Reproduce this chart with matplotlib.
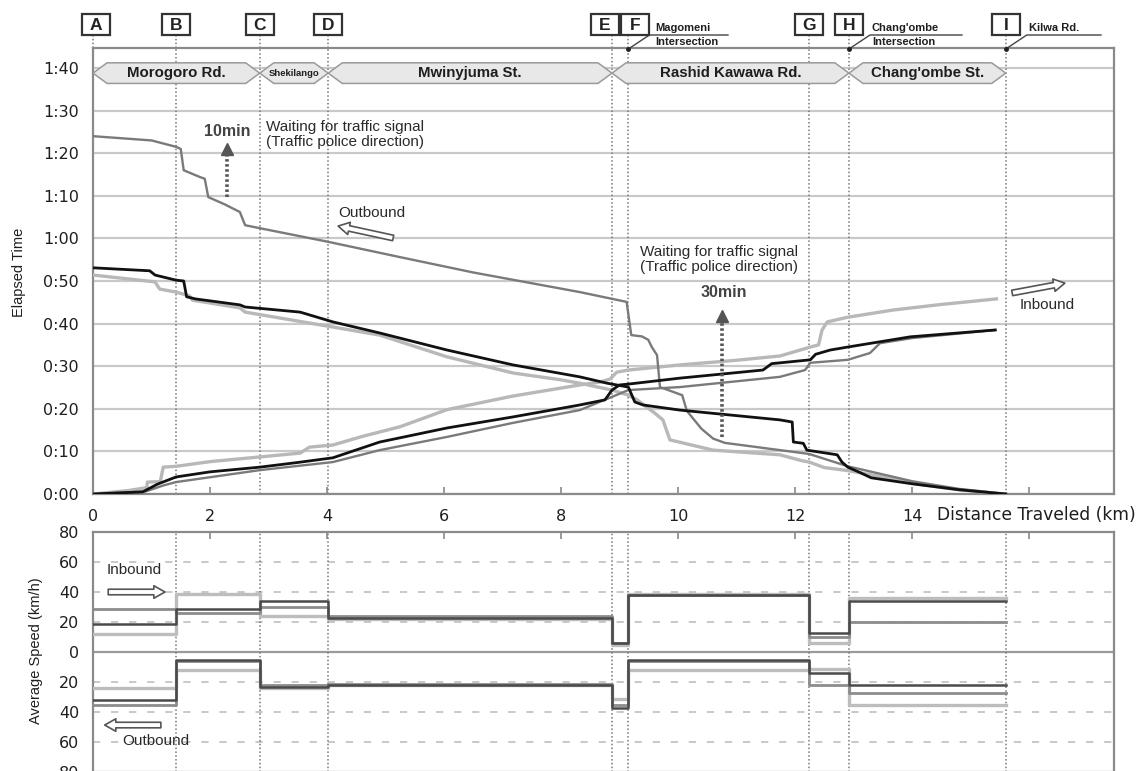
import matplotlib
matplotlib.use('Agg')
import matplotlib.pyplot as plt
from matplotlib.patches import Polygon, Rectangle, FancyArrowPatch, ArrowStyle
from matplotlib.lines import Line2D

# ---------------- data ----------------
station_names = ['A', 'B', 'C', 'D', 'E', 'F', 'G', 'H', 'I']
station_km = [0.0, 1.42, 2.85, 4.02, 8.87, 9.15, 12.24, 12.92, 15.6]

road_names = ['Morogoro Rd.', 'Shekilango', 'Mwinyjuma St.', 'Rashid Kawawa Rd.', "Chang'ombe St."]
road_from = [0.0, 2.85, 4.02, 8.87, 12.92]
road_to = [2.85, 4.02, 8.87, 12.92, 15.6]

time_ticks = [0, 10, 20, 30, 40, 50, 60, 70, 80, 90, 100]
dist_ticks = [0, 2, 4, 6, 8, 10, 12, 14, 16]
dist_labels = ['0', '2', '4', '6', '8', '10', '12', '14', '']
speed_ticks = [-80, -60, -40, -20, 0, 20, 40, 60, 80]

# inbound runs (km, elapsed minutes)
in_light_x = [0, 0.6, 0.92, 0.93, 1.15, 1.2, 1.42, 2.0, 2.85, 3.54, 3.7, 4.1, 4.6, 5.25, 6.05, 7.18, 8.32,
              8.67, 8.84, 8.95, 9.15, 10.03, 11.0, 11.74, 12.26, 12.4, 12.46, 12.55, 12.9, 13.68, 14.5, 15.44]
in_light_t = [0, 0.8, 1.5, 2.8, 2.9, 6.3, 6.5, 7.6, 8.7, 9.6, 11.0, 11.5, 13.5, 15.8, 19.8, 23.0, 25.6,
              26.3, 27.0, 28.6, 29.1, 30.3, 31.4, 32.4, 34.5, 35.0, 38.5, 40.4, 41.5, 43.2, 44.5, 45.8]
in_black_x = [0, 0.85, 1.1, 1.42, 2.0, 2.85, 3.5, 4.1, 4.9, 5.25, 6.05, 7.18, 8.32, 8.75, 8.87, 9.0,
              9.15, 10.03, 11.45, 11.6, 12.26, 12.35, 12.6, 12.9, 13.97, 15.42]
in_black_t = [0, 0.5, 2.3, 4.0, 5.2, 6.3, 7.4, 8.5, 12.2, 13.2, 15.5, 18.1, 20.9, 22.1, 24.4, 25.6,
              25.8, 27.2, 29.1, 30.6, 31.5, 32.8, 33.8, 34.5, 36.9, 38.5]
in_gray_x = [0, 0.9, 1.2, 1.42, 2.85, 4.1, 4.9, 6.05, 7.18, 8.32, 8.87, 9.15, 10.03, 11.74, 12.17, 12.26,
             12.9, 13.28, 13.45, 14.0, 15.42]
in_gray_t = [0, 0.6, 2.0, 2.8, 5.6, 7.5, 10.3, 13.4, 16.7, 19.7, 22.8, 24.4, 25.1, 27.5, 29.1, 30.8,
             31.5, 33.1, 35.4, 36.6, 38.5]

# outbound runs (km, elapsed minutes counted from I)
out_gray_x = [0, 1.0, 1.42, 1.5, 1.55, 1.83, 1.91, 1.97, 2.25, 2.51, 2.6, 2.85, 4.02, 5.25, 6.5, 8.32,
              9.12, 9.2, 9.38, 9.49, 9.55, 9.64, 9.69, 10.07, 10.15, 10.4, 10.6, 10.8, 11.74, 12.24,
              12.9, 13.5, 14.0, 14.8, 15.6]
out_gray_t = [84.0, 83.0, 81.5, 81.0, 76.0, 74.4, 74.0, 69.7, 68.0, 66.2, 63.1, 62.4, 59.2, 55.6, 52.0, 47.4,
              45.1, 37.3, 37.0, 36.2, 34.5, 32.6, 25.1, 23.2, 19.5, 15.3, 13.0, 12.0, 10.3, 9.4,
              6.5, 4.6, 3.0, 1.2, 0]
out_black_x = [0, 0.97, 1.06, 1.42, 1.55, 1.6, 1.75, 2.51, 2.6, 3.54, 4.1, 4.9, 6.05, 7.18, 8.32, 8.79,
               9.15, 9.26, 9.4, 10.03, 11.74, 11.95, 11.97, 12.14, 12.2, 12.72, 12.8, 12.9, 13.1, 13.3,
               14.0, 14.8, 15.6]
out_black_t = [53.1, 52.4, 51.4, 50.2, 50.0, 46.3, 45.8, 44.4, 43.9, 42.7, 40.4, 37.8, 33.8, 30.3, 27.5, 26.0,
               25.1, 21.6, 20.9, 19.7, 17.4, 16.9, 12.2, 11.9, 10.3, 9.2, 7.5, 6.3, 5.1, 3.8,
               2.4, 1.0, 0]
out_light_x = [0, 1.06, 1.14, 1.42, 1.65, 1.7, 2.51, 2.6, 4.1, 4.9, 6.05, 7.18, 8.0, 8.32, 8.87, 9.15,
               9.3, 9.6, 9.74, 9.86, 10.6, 11.74, 12.12, 12.24, 12.5, 12.9, 13.5, 14.0, 14.8, 15.6]
out_light_t = [51.4, 49.8, 48.1, 47.4, 46.5, 45.5, 43.7, 42.7, 39.2, 37.3, 32.2, 28.4, 26.8, 26.0, 24.4, 23.2,
               22.1, 19.0, 17.4, 12.7, 10.3, 9.2, 7.8, 7.5, 6.2, 5.5, 4.0, 2.5, 1.0, 0]

# average speed per section (km/h); inbound positive, outbound negative
seg_bounds = [0.0, 1.42, 2.85, 4.02, 8.87, 9.15, 12.24, 12.92, 15.6]
spd_in_dark = [19, 29, 34, 23, 6, 38, 13, 34]
spd_in_gray = [29, 26, 30, 24, 6, 38, 10, 20]
spd_in_light = [12, 39, 24, 22, 5, 39, 6, 36]
spd_out_dark = [-32, -5, -23, -22, -37, -5, -14, -22]
spd_out_gray = [-35, -6, -22, -21, -35, -6, -22, -27]
spd_out_light = [-24, -12, -24, -22, -31, -12, -11, -35]

# ---------------- figure ----------------
W, H = 1147, 771
fig = plt.figure(figsize=(W / 100, H / 100), dpi=100)


def fx(px):
    return px / W


def fy(py):
    return 1 - py / H


ax = fig.add_axes([fx(93), fy(494), fx(1114) - fx(93), fy(48) - fy(494)])
ax2 = fig.add_axes([fx(93), fy(772), fx(1114) - fx(93), fy(532) - fy(772)])

XMAX, TMAX = 17.45, 104.7
SP = '#8a8a8a'
TXT = '#1e1e1e'
ANN = dict(family='Liberation Sans', fontsize=11, color='#2a2a2a')

# ---- top panel ----
ax.set_xlim(0, XMAX)
ax.set_ylim(0, TMAX)
ax.set_yticks(time_ticks)
ax.set_yticklabels([f"{m // 60}:{m % 60:02d}" for m in time_ticks])
ax.set_xticks(dist_ticks)
ax.set_xticklabels(dist_labels)
ax.grid(axis='y', color='#c9c9c9', lw=1.6)
ax.set_axisbelow(True)
for s in ax.spines.values():
    s.set_color(SP)
    s.set_linewidth(1.6)
ax.tick_params(axis='y', length=0, pad=10, labelsize=11.5, labelcolor=TXT)
ax.tick_params(axis='x', direction='in', length=5, width=1.2, color=SP, pad=11, labelsize=11.5,
               labelcolor=TXT)
fig.text(fx(19), fy(272), 'Elapsed Time', rotation=90, ha='center', va='center',
         family='Liberation Sans', fontsize=10.5, color=TXT)
fig.text(fx(937), fy(515), 'Distance Traveled (km)', ha='left', va='center', fontsize=12.3, color=TXT)

# ---- bottom panel ----
ax2.set_xlim(0, XMAX)
ax2.set_ylim(-80, 80)
ax2.set_yticks(speed_ticks)
ax2.set_yticklabels([str(abs(v)) for v in speed_ticks])
ax2.xaxis.tick_top()
ax2.set_xticks(dist_ticks)
ax2.tick_params(axis='x', direction='in', length=5, width=1.2, color=SP, labeltop=False,
                labelbottom=False)
ax2.tick_params(axis='y', length=0, pad=10, labelsize=11.5, labelcolor=TXT)
for s in ax2.spines.values():
    s.set_color(SP)
    s.set_linewidth(1.6)
for v in [-60, -40, -20, 20, 40, 60]:
    ax2.axhline(v, color='#c4c4c4', lw=1.3, ls=(0, (4, 6)), zorder=0)
ax2.axhline(0, color='#9a9a9a', lw=1.6, zorder=1)
fig.text(fx(36), fy(651), 'Average Speed (km/h)', rotation=90, ha='center', va='center',
         family='Liberation Sans', fontsize=10.5, color=TXT)

# ---- station lines ----
top_px = 35
t_top = (494 - top_px) * TMAX / 446.0
for xk in station_km:
    for a in (ax, ax2):
        a.axvline(xk, color='#777777', ls=(0, (1, 1.5)), lw=1.1, zorder=2)
    ax.plot([xk, xk], [TMAX, t_top], color='#777777', ls=(0, (1, 1.5)), lw=1.1, clip_on=False, zorder=2)

# letter boxes
fig.canvas.draw()
box_offset = {'A': 3, 'E': -7, 'F': 7}
for name, xk in zip(station_names, station_km):
    cx = ax.transData.transform((xk, 0))[0] + box_offset.get(name, 0)
    fig.add_artist(Rectangle((fx(cx - 14), fy(35)), 28 / W, 21 / H, transform=fig.transFigure,
                             fc='white', ec='#333333', lw=1.6, zorder=5))
    fig.text(fx(cx), fy(25), name, ha='center', va='center', family='Liberation Sans',
             fontweight='bold', fontsize=12.5, color='#222222', zorder=6)

# road banners
yc, hh, tip = 98.8, 2.42, 0.24
for name, x0, x1 in zip(road_names, road_from, road_to):
    poly = Polygon([(x0, yc), (x0 + tip, yc + hh), (x1 - tip, yc + hh), (x1, yc),
                    (x1 - tip, yc - hh), (x0 + tip, yc - hh)], closed=True,
                   fc='#e8e8e8', ec='#9a9a9a', lw=1.1, zorder=3)
    ax.add_patch(poly)
    if name == 'Shekilango':
        ax.text((x0 + x1) / 2, yc, name, ha='center', va='center', fontsize=6.8,
                family=['Liberation Sans Narrow', 'Liberation Sans'], fontweight='bold', color=TXT, zorder=4)
    else:
        ax.text((x0 + x1) / 2, yc, name, ha='center', va='center', fontsize=10.8,
                family='Liberation Sans', fontweight='bold', color=TXT, zorder=4)

# intersection leaders
leaders = [(5, ['Magomeni', 'Intersection'], 655, 728),
           (7, ["Chang'ombe", 'Intersection'], 872, 962),
           (8, ['Kilwa Rd.'], 1029, 1101)]
for idx, lines, tx, xend in leaders:
    sx = ax.transData.transform((station_km[idx], 0))[0]
    fig.add_artist(Line2D([fx(sx), fx(sx + 21), fx(xend)], [fy(49), fy(35), fy(35)],
                          transform=fig.transFigure, color='#444444', lw=1.0))
    fig.add_artist(Line2D([fx(sx)], [fy(49)], transform=fig.transFigure, marker='o', ms=2.5,
                          color='#222222'))
    for i, ln in enumerate(lines):
        fig.text(fx(tx), fy(28 + 14 * i), ln, ha='left', va='center', family='Liberation Sans',
                 fontweight='bold', fontsize=8, color=TXT)

# ---- time-distance lines ----
C_LIGHT, C_GRAY, C_BLACK = '#b8b8b8', '#7a7a7a', '#111111'
ax.plot(in_light_x, in_light_t, color=C_LIGHT, lw=2.4, zorder=5)
ax.plot(in_gray_x, in_gray_t, color=C_GRAY, lw=1.7, zorder=6)
ax.plot(in_black_x, in_black_t, color=C_BLACK, lw=2.0, zorder=7)
ax.plot(out_light_x, out_light_t, color=C_LIGHT, lw=2.4, zorder=5)
ax.plot(out_gray_x, out_gray_t, color=C_GRAY, lw=1.7, zorder=6)
ax.plot(out_black_x, out_black_t, color=C_BLACK, lw=2.0, zorder=7)

# annotations (top)
ax.text(2.29, 85.0, '10min', ha='center', va='center', family='Liberation Sans', fontweight='bold',
        fontsize=11.5, color='#444444')
ax.plot([2.29, 2.29], [69.7, 79.8], color='#555555', lw=2.6, ls=(0, (0.7, 0.7)), zorder=6)
ax.plot([2.29], [80.9], marker='^', ms=9, color='#555555', zorder=6)
ax.text(10.78, 47.2, '30min', ha='center', va='center', family='Liberation Sans', fontweight='bold',
        fontsize=11.5, color='#444444')
ax.plot([10.75, 10.75], [13.4, 40.6], color='#555555', lw=2.6, ls=(0, (0.7, 0.7)), zorder=8)
ax.plot([10.75], [41.8], marker='^', ms=9, color='#555555', zorder=8)
ax.text(2.96, 84.4, 'Waiting for traffic signal\n(Traffic police direction)', ha='left', va='center',
        linespacing=1.05, **ANN)
ax.text(9.35, 55.0, 'Waiting for traffic signal\n(Traffic police direction)', ha='left', va='center',
        linespacing=1.05, **ANN)
ax.text(4.19, 66.0, 'Outbound', ha='left', va='center', **ANN)
ax.text(15.83, 44.3, 'Inbound', ha='left', va='center', **ANN)

hollow = ArrowStyle.Simple(head_length=8, head_width=9, tail_width=4)


def hollow_arrow(a, p0, p1):
    arr = FancyArrowPatch(p0, p1, arrowstyle=hollow, mutation_scale=1, fc='white', ec='#555555',
                          lw=1.2, shrinkA=0, shrinkB=0, zorder=9, clip_on=False)
    a.add_patch(arr)


hollow_arrow(ax, (5.13, 60.1), (4.19, 62.9))
hollow_arrow(ax, (15.71, 47.2), (16.61, 49.5))

# ---- speed steps ----
def steps(vals):
    return vals + [vals[-1]]


for vals, col, lw in [(spd_in_light, '#bdbdbd', 2.4), (spd_in_gray, '#8c8c8c', 2.0), (spd_in_dark, '#4a4a4a', 1.8),
                      (spd_out_light, '#bdbdbd', 2.4), (spd_out_gray, '#8c8c8c', 2.0),
                      (spd_out_dark, '#4a4a4a', 1.8)]:
    ax2.plot(seg_bounds, steps(vals), drawstyle='steps-post', color=col, lw=lw, zorder=4)

ax2.text(0.24, 54.7, 'Inbound', ha='left', va='center', **ANN)
ax2.text(0.5, -59.3, 'Outbound', ha='left', va='center', **ANN)
hollow_arrow(ax2, (0.26, 40), (1.23, 40))
hollow_arrow(ax2, (1.16, -48.7), (0.2, -48.7))

fig.savefig('out.png', dpi=100)
